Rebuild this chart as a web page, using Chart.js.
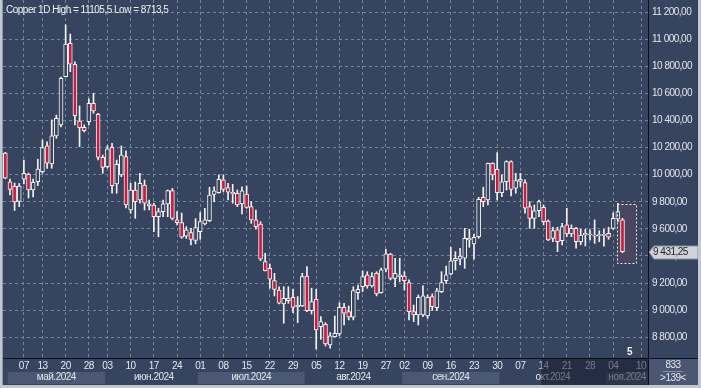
<!DOCTYPE html>
<html><head><meta charset="utf-8">
<script src="https://cdn.jsdelivr.net/npm/chart.js@4/dist/chart.umd.min.js"></script>
<style>html,body{margin:0;padding:0;background:#37445f;overflow:hidden}</style>
</head><body>
<canvas id="c" width="701" height="388"></canvas>
<script>
// ---- data ----
const dates = ['30.04','01.05','02.05','03.05','07.05','08.05','09.05','10.05','13.05','14.05','15.05','16.05','17.05',
'20.05','21.05','22.05','23.05','24.05','28.05','29.05','30.05','31.05','03.06','04.06','05.06','06.06','07.06',
'10.06','11.06','12.06','13.06','14.06','17.06','18.06','19.06','20.06','21.06','24.06','25.06','26.06','27.06','28.06',
'01.07','02.07','03.07','04.07','05.07','08.07','09.07','10.07','11.07','12.07','15.07','16.07','17.07','18.07','19.07',
'22.07','23.07','24.07','25.07','26.07','29.07','30.07','31.07','01.08','02.08','05.08','06.08','07.08','08.08','09.08',
'12.08','13.08','14.08','15.08','16.08','19.08','20.08','21.08','22.08','23.08','27.08','28.08','29.08','30.08',
'02.09','03.09','04.09','05.09','06.09','09.09','10.09','11.09','12.09','13.09','16.09','17.09','18.09','19.09','20.09',
'23.09','24.09','25.09','26.09','27.09','30.09','01.10','02.10','03.10','04.10','07.10','08.10','09.10','10.10','11.10',
'14.10','15.10','16.10','17.10','18.10','21.10','22.10','23.10','24.10','25.10','28.10','29.10','30.10','31.10','01.11',
'04.11','05.11','06.11','07.11','08.11','09.11','10.11','11.11'];

const open = [10160,9948,9913,9802,9966,10003,9887,9948,10022,10212,10079,10286,10367,
10723,10969,10815,10396,10350,10391,10527,10446,10128,10059,10202,9931,9998,10133,
9739,9887,9813,9924,9784,9776,9690,9727,9784,9882,9666,9646,9547,9572,9515,
9579,9636,9661,9855,9867,9961,9904,9870,9863,9784,9857,9764,9666,9636,9358,
9309,9218,9149,9046,9088,9095,9026,9031,9252,8996,9080,8878,8896,8743,8804,
8824,9021,8989,8948,9129,9173,9260,9179,9272,9129,9302,9413,9235,9247,
9252,9203,8989,8965,8965,8957,9100,9018,9137,9218,9267,9365,9376,9383,9531,
9488,9542,9833,9813,10084,10040,9867,9948,10096,9900,9966,9941,9764,9678,9734,
9759,9658,9530,9592,9513,9629,9562,9604,9505,9555,9555,9552,9550,9552,9567,
9604,9671,9666];
const high = [10165,9968,9938,9935,10108,10012,9968,10114,10256,10243,10404,10440,10721,
11105.5,11038,10832,10507,10367,10559,10601,10453,10145,10214,10232,10108,10212,10175,
9936,9946,10010,9961,9813,9789,9752,9813,9887,9899,9727,9717,9616,9604,9675,
9720,9752,9907,9911,9998,9998,9936,9929,9887,9911,9917,9801,9739,9653,9420,
9341,9272,9173,9173,9173,9154,9100,9272,9321,9162,9154,8952,8908,8834,8957,
9055,9051,9031,9173,9186,9289,9284,9277,9284,9311,9449,9420,9383,9383,
9284,9223,9038,9112,9179,9112,9120,9162,9284,9326,9464,9432,9457,9604,9597,
9562,9833,9907,10086,10088,10162,9998,10103,10103,10010,10010,9961,9801,9776,9813,
9776,9666,9612,9612,9641,9752,9629,9612,9597,9597,9592,9666,9586,9597,9612,
9719,9789,9678];
const low = [9970,9850,9736,9764,9931,9828,9835,9919,10010,10047,10047,10268,10352,
10721,10760,10367,10207,10315,10367,10453,10108,10010,10049,9863,9863,9985,9754,
9715,9678,9789,9739,9739,9579,9542,9690,9690,9666,9629,9530,9530,9481,9490,
9523,9629,9653,9801,9863,9875,9813,9789,9764,9710,9752,9641,9597,9365,9289,
9162,9105,9046,8903,9051,8982,8908,9026,8989,8972,8713.5,8785,8736,8719,8802,
8810,8891,8928,8928,9080,9137,9162,9169,9105,9125,9284,9223,9173,9210,
9149,8928,8915,8891,8952,8940,8998,8998,9129,9198,9260,9297,9334,9309,9464,
9376,9530,9764,9776,9961,9813,9837,9887,9843,9863,9911,9715,9604,9604,9690,
9629,9513,9505,9432,9481,9542,9542,9457,9483,9474,9518,9493,9505,9472,9523,
9597,9653,9424];
const close = [9975,9892,9798,9916,10010,9887,9944,10042,10199,10084,10286,10416,10711,
10964,10815,10435,10347,10325,10527,10470,10128,10054,10190,9919,10077,10145,9776,
9887,9801,9936,9789,9769,9690,9727,9784,9882,9678,9646,9538,9592,9523,9610,
9653,9666,9850,9880,9966,9892,9870,9857,9776,9880,9759,9666,9616,9376,9291,
9228,9154,9051,9088,9070,9021,9036,9247,8996,9063,8854,8915,8751,8810,8829,
9021,8977,8948,9144,9154,9247,9179,9247,9120,9297,9415,9235,9272,9260,
9218,8989,8965,9095,9105,9095,9026,9142,9203,9260,9365,9383,9400,9531,9518,
9538,9818,9801,10084,9998,9867,9948,10096,9892,9956,9951,9752,9678,9734,9801,
9653,9518,9587,9505,9616,9562,9604,9505,9555,9567,9560,9547,9555,9557,9538,
9678,9727,9431.25];

const weekTicks = ['07.05','13.05','20.05','28.05','03.06','10.06','17.06','24.06','01.07','08.07','15.07','22.07',
'29.07','05.08','12.08','19.08','27.08','02.09','09.09','16.09','23.09','30.09','07.10','14.10','21.10','28.10','04.11','10.11'];
const monthNames = {'05':'май.2024','06':'июн.2024','07':'июл.2024','08':'авг.2024','09':'сен.2024','10':'окт.2024','11':'ноя.2024'};
const titleText = 'Copper 1D High = 11105,5 Low = 8713,5';
const lastPrice = 9431.25;
const highlightRange = {hi: 9785, lo: 9348};
const countBox = ['833', '>139<'];
const markerText = '5';

// ---- style ----
const BG = '#37445f', GRID = '#75839d', RED = '#cc1a3e', BAND = '#4a5775', FRAME = '#c2c8d1';
const FONT = {family: "'Liberation Sans', Arial, sans-serif", size: 10};
const TXT = '#e3e6ec';

// month runs
const runs = [];
dates.forEach((d, i) => {
  const m = d.slice(3);
  if (!runs.length || runs[runs.length - 1].m !== m) runs.push({m, first: i, last: i});
  else runs[runs.length - 1].last = i;
});
const monthLabelAt = {};
runs.forEach(r => { if (monthNames[r.m] && r.last - r.first >= 3) monthLabelAt[Math.round((r.first + r.last) / 2)] = monthNames[r.m]; });

const fmt = v => {
  const [ip, dp] = v.toFixed(2).split('.');
  return ip.replace(/\B(?=(\d{3})+(?!\d))/g, ' ') + ',' + dp;
};

const decor = {
  id: 'decor',
  beforeDraw(chart) {
    const {ctx, width, height, chartArea: a, scales: {x}} = chart;
    ctx.save();
    ctx.fillStyle = BG; ctx.fillRect(0, 0, width, height);
    const w = x.getPixelForValue(1) - x.getPixelForValue(0);
    runs.forEach(r => {
      if (parseInt(r.m, 10) % 2 === 1) {
        const x0 = x.getPixelForValue(r.first) - w / 2, x1 = Math.min(x.getPixelForValue(r.last) + w / 2, a.right);
        ctx.fillStyle = BAND; ctx.fillRect(x0, a.bottom + 14, x1 - x0, 12);
      }
    });
    ctx.restore();
    ctx.letterSpacing = '-0.5px';
  },
  beforeDatasetsDraw(chart) {
    const {ctx, scales: {x, y}} = chart;
    const x0 = x.getPixelForValue(131.8), x1 = x.getPixelForValue(135.9);
    const y0 = y.getPixelForValue(highlightRange.hi), y1 = y.getPixelForValue(highlightRange.lo);
    ctx.save(); ctx.fillStyle = '#4a4561'; ctx.fillRect(x0, y0, x1 - x0, y1 - y0); ctx.restore();
  },
  afterDatasetsDraw(chart) {
    const {ctx, scales: {x, y}} = chart;
    const x0 = Math.round(x.getPixelForValue(131.8)) + 0.5, x1 = Math.round(x.getPixelForValue(135.9)) + 0.5;
    const y0 = Math.round(y.getPixelForValue(highlightRange.hi)) + 0.5, y1 = Math.round(y.getPixelForValue(highlightRange.lo)) + 0.5;
    ctx.save(); ctx.strokeStyle = '#f0f0f0'; ctx.lineWidth = 1; ctx.setLineDash([2, 2]);
    ctx.strokeRect(x0, y0, x1 - x0, y1 - y0); ctx.restore();
  },
  afterDraw(chart) {
    const {ctx, width, height, chartArea: a, scales: {x, y}} = chart;
    ctx.save();
    ctx.letterSpacing = '-0.5px';
    // dim overlay on the axis beyond mid-October
    const dx = x.getPixelForValue(115.5);
    ctx.fillStyle = 'rgba(20,27,44,0.55)';
    ctx.fillRect(dx, a.bottom, a.right - dx, height - 3 - a.bottom);
    // count box
    ctx.fillStyle = '#4a5672'; ctx.fillRect(a.right, a.bottom, width - 3 - a.right, height - 3 - a.bottom);
    ctx.font = "10px 'Liberation Sans', Arial, sans-serif";
    ctx.textAlign = 'center'; ctx.textBaseline = 'middle'; ctx.fillStyle = TXT;
    const cx = (a.right + width - 3) / 2;
    ctx.fillText(countBox[0], cx, a.bottom + 7);
    ctx.fillText(countBox[1], cx, a.bottom + 20);
    ctx.strokeStyle = 'rgba(200,205,215,0.5)'; ctx.beginPath(); ctx.moveTo(cx - 10, a.bottom + 13.5); ctx.lineTo(cx + 10, a.bottom + 13.5); ctx.stroke();
    // axis lines
    ctx.fillStyle = '#0c0f16';
    ctx.fillRect(0, Math.round(a.bottom), width, 1);
    ctx.fillRect(Math.round(a.right), 0, 1, height - 3);
    // marker
    ctx.fillStyle = '#f2f2f2'; ctx.font = "bold 10px 'Liberation Sans', Arial, sans-serif";
    ctx.fillText(markerText, x.getPixelForValue(134.5), a.bottom - 6);
    // price label
    const py = Math.round(y.getPixelForValue(lastPrice));
    ctx.beginPath();
    ctx.moveTo(a.right + 1, py); ctx.lineTo(a.right + 6, py - 6); ctx.lineTo(width - 3, py - 6);
    ctx.lineTo(width - 3, py + 7); ctx.lineTo(a.right + 6, py + 7); ctx.closePath();
    ctx.fillStyle = '#cfd3d9'; ctx.fill();
    ctx.strokeStyle = '#8a909c'; ctx.lineWidth = 1; ctx.stroke();
    ctx.fillStyle = '#1c1f26'; ctx.font = "10px 'Liberation Sans', Arial, sans-serif"; ctx.textAlign = 'left';
    ctx.fillText(fmt(lastPrice), a.right + 5, py + 0.5);
    // title
    ctx.fillStyle = '#eef0f4'; ctx.textAlign = 'left';
    ctx.fillText(titleText, 6, 10);
    // frame
    ctx.fillStyle = FRAME;
    ctx.fillRect(0, 0, 2, height); ctx.fillRect(0, height - 3, width, 3); ctx.fillRect(width - 3, 0, 3, height);
    ctx.fillStyle = '#8e97a5'; ctx.fillRect(2, 0, 1, height - 3);
    ctx.restore();
  }
};

const n = open.length;
new Chart(document.getElementById('c'), {
  type: 'bar',
  data: {
    labels: dates,
    datasets: [
      {
        label: 'body', order: 0, grouped: false,
        data: dates.map((d, i) => i < n ? [open[i], close[i]] : null),
        backgroundColor: c => (close[c.dataIndex] < open[c.dataIndex] ? RED : BG),
        borderColor: '#f4f4f4', borderWidth: 1, borderSkipped: false,
        barThickness: 4, minBarLength: 1
      },
      {
        label: 'wick', order: 1, grouped: false,
        data: dates.map((d, i) => i < n ? [low[i], high[i]] : null),
        backgroundColor: '#f4f4f4', borderWidth: 0, barThickness: 1
      }
    ]
  },
  options: {
    responsive: false, animation: false, devicePixelRatio: 1,
    layout: {padding: {left: 3, right: 3, top: 0, bottom: 3}},
    plugins: {legend: {display: false}, tooltip: {enabled: false}},
    scales: {
      x: {
        type: 'category', offset: true, weight: 0,
        grid: {offset: false, drawTicks: false, lineWidth: 1,
          color: c => (weekTicks.includes(dates[c.index]) ? GRID : 'rgba(0,0,0,0)')},
        border: {display: false, dash: [3, 3]},
        ticks: {autoSkip: false, maxRotation: 0, minRotation: 0, padding: 2, color: TXT, font: FONT,
          callback: (v, i) => (weekTicks.includes(dates[i]) ? dates[i].slice(0, 2) : '')},
        afterFit: s => { s.height = 13; s.paddingLeft = 0; s.paddingRight = 0; }
      },
      x2: {
        type: 'category', position: 'bottom', offset: true, weight: 1, labels: dates,
        grid: {display: false, drawTicks: false}, border: {display: false},
        ticks: {autoSkip: false, maxRotation: 0, minRotation: 0, padding: 0, color: TXT, font: FONT,
          callback: (v, i) => monthLabelAt[i] || ''},
        afterFit: s => { s.height = 14; s.paddingLeft = 0; s.paddingRight = 0; }
      },
      y: {
        position: 'right', min: 8647, max: 11289,
        grid: {color: GRID, drawTicks: false, lineWidth: 1},
        border: {display: false, dash: [3, 3]},
        ticks: {stepSize: 200, includeBounds: false, padding: 4, color: TXT, font: FONT, callback: v => fmt(v)},
        afterFit: s => { s.width = 50; s.paddingTop = 0; s.paddingBottom = 0; }
      }
    }
  },
  plugins: [decor]
});
</script>
</body></html>
